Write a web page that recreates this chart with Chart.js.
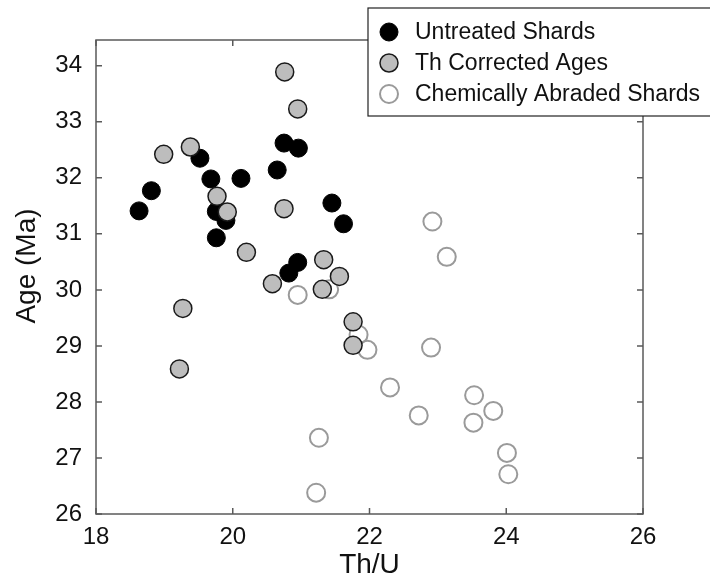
<!DOCTYPE html>
<html>
<head>
<meta charset="utf-8">
<script src="https://cdn.jsdelivr.net/npm/chart.js@4.4.1/dist/chart.umd.min.js"></script>
<style>
  body { margin: 0; background: #fff; }
  canvas { display: block; }
</style>
</head>
<body>
<canvas id="chartAge" width="710" height="580"></canvas>
<script>
const seriesNames = ["Untreated Shards", "Th Corrected Ages", "Chemically Abraded Shards"];

const untreatedX = [18.63, 18.81, 19.52, 19.68, 20.12, 19.76, 19.90, 19.76, 20.75, 20.96, 20.65, 21.45, 21.62, 20.82, 20.95];
const untreatedY = [31.41, 31.77, 32.35, 31.98, 31.99, 31.40, 31.24, 30.93, 32.62, 32.53, 32.14, 31.55, 31.18, 30.30, 30.49];

const correctedX = [20.76, 20.95, 19.38, 18.99, 19.77, 19.92, 20.75, 20.20, 20.58, 21.33, 21.56, 21.31, 21.76, 21.76, 19.27, 19.22];
const correctedY = [33.89, 33.23, 32.55, 32.42, 31.67, 31.39, 31.45, 30.67, 30.11, 30.54, 30.24, 30.01, 29.43, 29.01, 29.67, 28.59];

const abradedX = [20.95, 21.41, 21.84, 21.97, 22.30, 21.26, 21.22, 22.92, 23.13, 22.90, 22.72, 23.53, 23.52, 23.81, 24.01, 24.03];
const abradedY = [29.91, 30.01, 29.20, 28.93, 28.26, 27.36, 26.38, 31.22, 30.59, 28.97, 27.76, 28.12, 27.63, 27.84, 27.09, 26.71];

const xTicks = [18, 20, 22, 24, 26];
const yTicks = [26, 27, 28, 29, 30, 31, 32, 33, 34];

const FONT = "'Liberation Sans', Arial, Helvetica, sans-serif";

const toPoints = (xs, ys) => xs.map((x, i) => ({ x: x, y: ys[i] }));

const styles = [
    { bg: "#000000", border: "#000000", bw: 1 },
    { bg: "#bdbdbd", border: "#1a1a1a", bw: 1.5 },
    { bg: "rgba(255,255,255,0)", border: "#9a9a9a", bw: 2 }
];

// box round the plot with ticks pointing inward
const frame = {
    id: "frame",
    beforeDatasetsDraw(chart) {
        const { ctx, chartArea: a, scales } = chart;
        const len = 6;
        ctx.save();
        ctx.strokeStyle = "#5a5a5a";
        ctx.lineWidth = 1.5;
        ctx.strokeRect(a.left, a.top, a.right - a.left, a.bottom - a.top);
        ctx.beginPath();
        xTicks.forEach(v => {
            const px = scales.x.getPixelForValue(v);
            ctx.moveTo(px, a.bottom); ctx.lineTo(px, a.bottom - len);
            ctx.moveTo(px, a.top); ctx.lineTo(px, a.top + len);
        });
        yTicks.forEach(v => {
            const py = scales.y.getPixelForValue(v);
            ctx.moveTo(a.left, py); ctx.lineTo(a.left + len, py);
            ctx.moveTo(a.right, py); ctx.lineTo(a.right - len, py);
        });
        ctx.stroke();
        ctx.restore();
    },
    afterDraw(chart) {
        const { ctx } = chart;
        ctx.save();
        // y title
        ctx.translate(27, 266);
        ctx.rotate(-Math.PI / 2);
        ctx.fillStyle = "#111";
        ctx.font = "28px " + FONT;
        ctx.textAlign = "center";
        ctx.textBaseline = "middle";
        ctx.fillText("Age (Ma)", 0, 0);
        ctx.restore();

        // legend
        ctx.save();
        ctx.fillStyle = "#fff";
        ctx.strokeStyle = "#222";
        ctx.lineWidth = 1.2;
        ctx.fillRect(368, 8, 350, 108);
        ctx.strokeRect(368, 8, 350, 108);
        ctx.font = "23px " + FONT;
        ctx.textBaseline = "middle";
        seriesNames.forEach((name, i) => {
            const cy = 32 + i * 31;
            const s = styles[i];
            ctx.beginPath();
            ctx.arc(389, cy, 9, 0, Math.PI * 2);
            ctx.fillStyle = s.bg;
            ctx.fill();
            ctx.lineWidth = s.bw;
            ctx.strokeStyle = s.border;
            ctx.stroke();
            ctx.fillStyle = "#111";
            ctx.fillText(name, 415, cy + 1);
        });
        ctx.restore();
    }
};

const series = [[untreatedX, untreatedY], [correctedX, correctedY], [abradedX, abradedY]];
const drawOrder = [1, 0, 2];

new Chart(document.getElementById("chartAge"), {
    type: "scatter",
    data: {
        datasets: series.map((s, i) => ({
            label: seriesNames[i],
            data: toPoints(s[0], s[1]),
            backgroundColor: styles[i].bg,
            borderColor: styles[i].border,
            borderWidth: styles[i].bw,
            pointRadius: 9,
            pointHoverRadius: 9,
            order: drawOrder[i],
            clip: false
        }))
    },
    options: {
        responsive: false,
        animation: false,
        events: [],
        layout: { padding: { top: 40, right: 67, left: 0, bottom: 0 } },
        plugins: {
            legend: { display: false },
            tooltip: { enabled: false }
        },
        scales: {
            x: {
                type: "linear",
                min: 18,
                max: 26,
                afterFit: s => { s.height = 66; },
                afterBuildTicks: s => { s.ticks = xTicks.map(v => ({ value: v })); },
                grid: { display: false, drawTicks: false },
                border: { display: false },
                ticks: { color: "#111", padding: 9, maxRotation: 0, font: { family: FONT, size: 24 } },
                title: {
                    display: true,
                    text: "Th/U",
                    color: "#111",
                    padding: { top: 0, bottom: 1 },
                    font: { family: FONT, size: 28, lineHeight: 1 }
                }
            },
            y: {
                type: "linear",
                min: 26,
                max: 34.46,
                afterFit: s => { s.width = 96; },
                afterBuildTicks: s => { s.ticks = yTicks.map(v => ({ value: v })); },
                grid: { display: false, drawTicks: false },
                border: { display: false },
                ticks: { color: "#111", padding: 14, font: { family: FONT, size: 24 } }
            }
        }
    },
    plugins: [frame]
});
</script>
</body>
</html>
